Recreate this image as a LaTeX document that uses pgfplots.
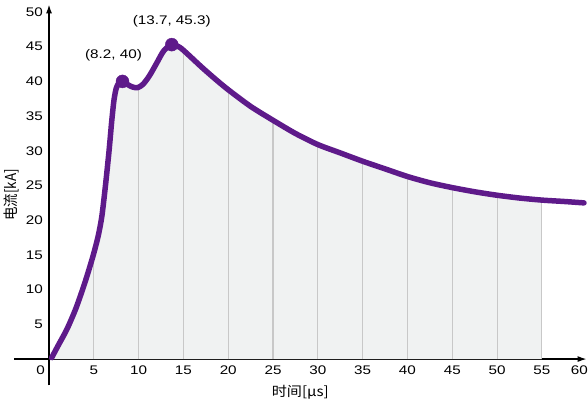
\documentclass[border=0pt]{standalone}
\usepackage{pgfplots}
\pgfplotsset{compat=1.18}
\usepackage{pgfplotstable}
\usepgfplotslibrary{fillbetween}
\usetikzlibrary{arrows.meta}
\usepackage{fontspec}
\setmainfont{Liberation Sans}
\newfontfamily\cjk{Noto Sans CJK SC}

\definecolor{wave}{HTML}{5E1A8A}
\definecolor{under}{HTML}{F0F2F2}
\definecolor{rule}{HTML}{C8C8C8}

% current waveform, time in microseconds, current in kA
\pgfplotstableread{
x y
0.3 0.2
1.0 1.9
2.0 4.3
3.0 7.3
4.0 11.0
4.9 14.8
5.5 17.8
5.9 20.6
6.3 25.0
6.7 30.0
7.0 34.3
7.25 37.3
7.5 39.0
7.8 39.8
8.2 40.0
8.7 39.6
9.3 39.2
9.9 39.1
10.5 39.6
11.2 40.8
12.0 42.6
12.8 44.4
13.7 45.3
14.6 44.9
15.5 43.9
17.0 42.1
18.5 40.4
20.0 38.8
22.5 36.4
25.0 34.4
27.5 32.5
30.0 30.9
32.5 29.7
35.0 28.5
37.5 27.4
40.0 26.3
42.5 25.4
45.0 24.7
47.5 24.1
50.0 23.6
52.5 23.2
55.0 22.9
57.5 22.7
59.7 22.5
}\wavedata

% the same curve up to 55 us, for the shaded area
\pgfplotstableread{
x y
0.3 0.2
1.0 1.9
2.0 4.3
3.0 7.3
4.0 11.0
4.9 14.8
5.5 17.8
5.9 20.6
6.3 25.0
6.7 30.0
7.0 34.3
7.25 37.3
7.5 39.0
7.8 39.8
8.2 40.0
8.7 39.6
9.3 39.2
9.9 39.1
10.5 39.6
11.2 40.8
12.0 42.6
12.8 44.4
13.7 45.3
14.6 44.9
15.5 43.9
17.0 42.1
18.5 40.4
20.0 38.8
22.5 36.4
25.0 34.4
27.5 32.5
30.0 30.9
32.5 29.7
35.0 28.5
37.5 27.4
40.0 26.3
42.5 25.4
45.0 24.7
47.5 24.1
50.0 23.6
52.5 23.2
55.0 22.9
}\areadata

\begin{document}
\begin{tikzpicture}
\begin{axis}[
  scale only axis,
  width=573.4pt, height=381.6pt,
  xmin=-3.9, xmax=60,
  ymin=-3.8, ymax=51.1,
  axis lines=middle,
  axis line style={line width=1.5pt, black, -{Latex[length=9pt,width=6pt]}},
  hide obscured x ticks=false,
  hide obscured y ticks=false,
  major tick length=0pt,
  xtick={0,5,...,60},
  xticklabels={\makebox[0pt]{0\hspace*{14pt}},5,10,15,20,25,30,35,40,45,50,55,\makebox[0pt]{60\hspace*{12pt}}},
  ytick={5,10,...,50},
  xticklabel style={font=\fontsize{12.5}{14}\selectfont, inner sep=0pt, anchor=north, yshift=-7pt, xscale=1.22},
  yticklabel style={font=\fontsize{12.5}{14}\selectfont, inner sep=0pt, anchor=east, xshift=-6pt, xscale=1.22},
  /pgf/number format/assume math mode=true,
  xlabel={\cjk 时间[μs]},
  ylabel={\cjk 电流[kA]},
  xlabel style={at={(axis description cs:0.5,0)}, anchor=base, inner sep=0pt, yshift=-11pt, font=\fontsize{13.5}{16}\selectfont, xscale=1.12},
  ylabel style={at={(axis description cs:0,0.5)}, anchor=south, inner sep=0pt, xshift=5pt, rotate=90, yscale=1.12, font=\fontsize{13.5}{16}\selectfont},
  clip=false,
]
  % shaded region under the waveform
  \addplot[draw=none, name path=upper] table[x=x, y=y] {\areadata};
  \addplot[draw=none, name path=lower] coordinates {(0,0) (55,0)};
  \addplot[under] fill between[of=upper and lower];

  % vertical guides every 5 us
  \addplot[ycomb, rule, line width=1.1pt, mark=none] coordinates {
    (5,15.2) (10,39.1) (15,44.5) (20,38.8) (25,34.4) (30,30.9)
    (35,28.5) (40,26.3) (45,24.7) (50,23.6) (55,22.9)
  };

  % waveform
  \addplot[wave, line width=5.5pt, smooth, tension=0.45, mark=none, line cap=round, line join=round] table[x=x, y=y] {\wavedata};

  % peaks
  \addplot[only marks, mark=*, mark size=6.5pt, mark options={draw=wave, fill=wave},
    nodes near coords={(8.2, 40)},
    every node near coord/.append style={font=\fontsize{12.5}{14}\selectfont, black, anchor=center, xshift=-9pt, yshift=26pt, xscale=1.22}]
    coordinates {(8.2,40)};
  \addplot[only marks, mark=*, mark size=6.5pt, mark options={draw=wave, fill=wave},
    nodes near coords={(13.7, 45.3)},
    every node near coord/.append style={font=\fontsize{12.5}{14}\selectfont, black, anchor=center, xshift=0pt, yshift=23pt, xscale=1.22}]
    coordinates {(13.7,45.3)};

  \coordinate (bbsw) at (axis cs:-5.47,-6.12);
  \coordinate (bbne) at (axis cs:60.15,51.73);
\end{axis}
\pgfresetboundingbox
\useasboundingbox (bbsw) rectangle (bbne);
\end{tikzpicture}
\end{document}
